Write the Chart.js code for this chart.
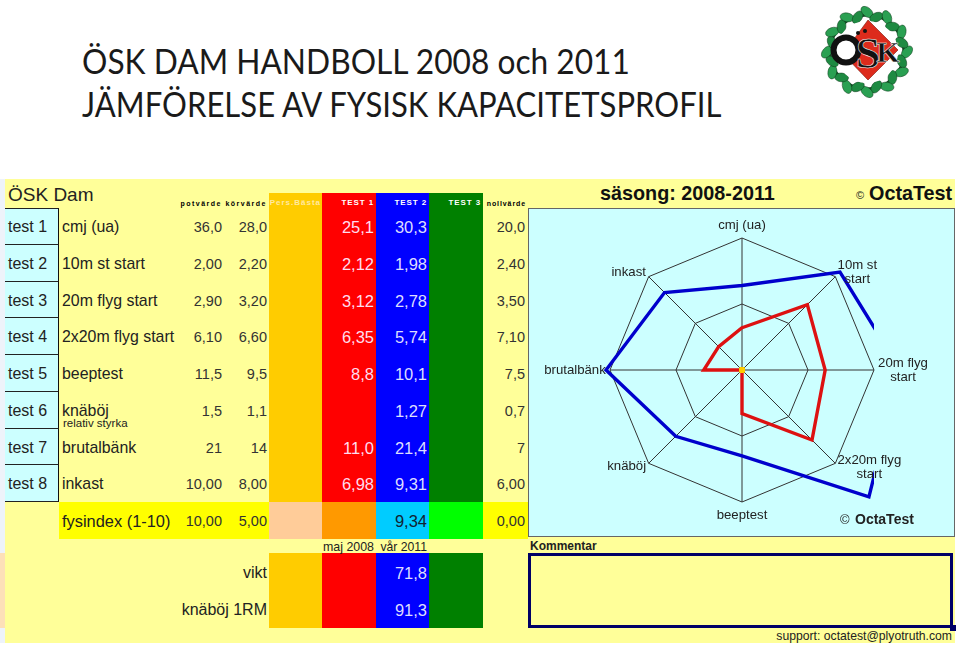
<!DOCTYPE html>
<html><head><meta charset="utf-8">
<script src="https://cdn.jsdelivr.net/npm/chart.js@4"></script>
<style>
html,body{margin:0;padding:0;background:#fff;width:959px;height:654px;overflow:hidden}
#page{position:relative;width:959px;height:654px;overflow:hidden;font-family:"Liberation Sans",Arial,sans-serif;color:#222}
.b{position:absolute}
.t{position:absolute;white-space:nowrap;line-height:1}
#chartBox{position:absolute;left:528px;top:208px;width:427px;height:329px}
canvas{display:block}
</style></head><body><div id="page"></div>
<script>
// ---------- chart data ----------
const titleLines = ["ÖSK DAM HANDBOLL 2008 och 2011", "JÄMFÖRELSE AV FYSISK KAPACITETSPROFIL"];
const testIds = ["test 1","test 2","test 3","test 4","test 5","test 6","test 7","test 8"];
const testNames = ["cmj (ua)","10m st start","20m flyg start","2x20m flyg start","beeptest","knäböj","brutalbänk","inkast"];
const potValues = ["36,0","2,00","2,90","6,10","11,5","1,5","21","10,00"];
const korValues = ["28,0","2,20","3,20","6,60","9,5","1,1","14","8,00"];
const test1Values = ["25,1","2,12","3,12","6,35","8,8","","11,0","6,98"];
const test2Values = ["30,3","1,98","2,78","5,74","10,1","1,27","21,4","9,31"];
const nollValues = ["20,0","2,40","3,50","7,10","7,5","0,7","7","6,00"];
const fysRow = ["fysindex (1-10)","10,00","5,00","9,34","0,00"];
const extraNames = ["vikt","knäböj 1RM"];
const extraValues = ["71,8","91,3"];
const radarLabels = ["cmj (ua)",["10m st","start"],["20m flyg","start"],["2x20m flyg","start"],"beeptest","knäböj","brutalbänk","inkast"];
const scoreTest1 = [3.2,7.0,6.3,7.5,3.3,0,2.9,2.5];
const scoreTest2 = [6.4,10.5,12.0,13.6,6.5,7.1,10.3,8.3];
const scorePers = [0,0,0,0,0,0,0,0];
const scoreTest3 = [0,0,0,0,0,0,0,0];
const radarTicks = [0,5,10];

// ---------- layout helpers ----------
const page = document.getElementById('page');
function box(x,y,w,h,bg,extra){const d=document.createElement('div');d.className='b';
  d.style.cssText=`left:${x}px;top:${y}px;width:${w}px;height:${h}px;background:${bg};${extra||''}`;page.appendChild(d);return d;}
function text(s,x,y,size,opt){opt=opt||{};const d=document.createElement('div');d.className='t';d.textContent=s;
  let st=`top:${y}px;font-size:${size}px;transform:translateY(-50%);color:${opt.color||'#222'};font-weight:${opt.bold?'bold':'normal'};`;
  if(opt.family)st+=`font-family:${opt.family};`;
  if(opt.ls)st+=`letter-spacing:${opt.ls}px;`;
  if(opt.anchor==='r')st+=`right:${959-x}px;`;else if(opt.anchor==='c')st+=`left:${x}px;transform:translate(-50%,-50%);`;else st+=`left:${x}px;`;
  if(opt.sx)st+=`transform-origin:left center;transform:translateY(-50%) scaleX(${opt.sx});`;
  d.style.cssText=st;page.appendChild(d);return d;}

// title
text(titleLines[0],82,60.5,35.5,{family:'Lato',color:'#1a1a1a',sx:0.893});
text(titleLines[1],82,104,35.5,{family:'Lato',color:'#1a1a1a',sx:0.875});

// spreadsheet background and left gutter
box(0,179,5,464,'#eef3fa');
box(0,553,5,75,'#fde0b8');
box(5,179,950,464,'#FFFF99');

// coloured columns
const colX=[269,322,376,429,483];
const mainCols=['#FFCC00','#FF0000','#0000FF','#008000'];
const fysCols=['#FFCC99','#FF9900','#00CCFF','#00FF00'];
mainCols.forEach((c,i)=>{
  box(colX[i],193,colX[i+1]-colX[i],309,c);
  box(colX[i],553,colX[i+1]-colX[i],75,c);
});
box(59,502,469,37,'#FFFF00');
fysCols.forEach((c,i)=>box(colX[i],502,colX[i+1]-colX[i],37,c));

// header
text('ÖSK Dam',8,193.5,19);
text('potvärde',222,202.5,7,{bold:true,ls:1.5,anchor:'r',color:'#000'});
text('körvärde',267,202.5,7,{bold:true,ls:1.5,anchor:'r',color:'#000'});
text('Pers.Bästa',321,202.5,8,{bold:true,ls:1,anchor:'r',color:'#ffe9a0'});
text('TEST 1',374,202.5,8,{bold:true,ls:.9,anchor:'r',color:'#fff'});
text('TEST 2',427,202.5,8,{bold:true,ls:.9,anchor:'r',color:'#fff'});
text('TEST 3',481,202.5,8,{bold:true,ls:.9,anchor:'r',color:'#fff'});
text('nollvärde',526,202.5,7,{bold:true,ls:.9,anchor:'r',color:'#000'});

// rows
const rowTop=208,rowH=36.75;
testIds.forEach((id,i)=>{
  const y0=rowTop+i*rowH,yc=y0+19;
  box(5,y0,54,rowH,'#CCFFFF','box-sizing:border-box;border-right:1.5px solid #111;border-bottom:1.5px solid #222;'+(i==0?'border-top:1.5px solid #222;':''));
  text(id,8,yc,16);
  text(testNames[i],62,yc,15.9);
  text(potValues[i],222,yc,14.5,{anchor:'r',color:'#333'});
  text(korValues[i],267,yc,14.5,{anchor:'r',color:'#333'});
  if(test1Values[i])text(test1Values[i],374,yc,16.5,{anchor:'r',color:'#fde'});
  text(test2Values[i],427,yc,16.5,{anchor:'r',color:'#ddf'});
  text(nollValues[i],525,yc,14.5,{anchor:'r',color:'#333'});
});
text('relativ styrka',63,424,11.5);
// fysindex row
text(fysRow[0],62,521,16.4);
text(fysRow[1],222,521,14.5,{anchor:'r',color:'#333'});
text(fysRow[2],267,521,14.5,{anchor:'r',color:'#333'});
text(fysRow[3],427,521,16.5,{anchor:'r',color:'#123'});
text(fysRow[4],525,521,14.5,{anchor:'r',color:'#333'});
text('maj 2008',374,547,12.4,{anchor:'r'});
text('vår 2011',427,547,12.2,{anchor:'r'});
extraNames.forEach((n,i)=>{
  const yc=572.5+i*37;
  text(n,267,yc,16,{anchor:'r'});
  text(extraValues[i],427,yc,16.5,{anchor:'r',color:'#ddf'});
});

// season heading
text('säsong: 2008-2011',600,193.5,19.8,{bold:true,color:'#111'});
text('©',856,195,11,{color:'#222'});
text('OctaTest',869,193.5,19.8,{bold:true,color:'#111'});

// comment box
text('Kommentar',530,546,12,{bold:true,color:'#222'});
box(528,553,425,75,'#FFFF99','box-sizing:border-box;border:3px solid #000066;');
box(950,625,6,6,'#000066');
text('support: octatest@plyotruth.com',952,635.5,12.2,{anchor:'r',color:'#222'});

// chart panel
box(528,208,427,329,'#CCFFFF','box-sizing:border-box;border:1.5px solid #666;');
const cb=document.createElement('div');cb.id='chartBox';cb.innerHTML='<canvas id="c" width="427" height="329"></canvas>';page.appendChild(cb);
text('©',840,519,13,{color:'#222'});
text('OctaTest',855,519,14,{bold:true,color:'#222'});

// logo
const lns='http://www.w3.org/2000/svg';
const svg=document.createElementNS(lns,'svg');
svg.setAttribute('width','100');svg.setAttribute('height','100');svg.setAttribute('viewBox','-50 -50 100 100');
svg.style.cssText='position:absolute;left:817px;top:2px';
let s='';
const leafCount=24;
s+=`<circle r="37" fill="none" stroke="#154d26" stroke-width="3"/>`;
for(let i=0;i<leafCount;i++){const a=i/leafCount*360;const odd=i%2;const cx=odd?36:40;
  s+=`<ellipse cx="${cx}" cy="0" rx="7" ry="4.4" transform="rotate(${a}) rotate(${odd?50:-50} ${cx} 0)" fill="${odd?'#1e8a42':'#2aa052'}" stroke="#0e3d1c" stroke-width=".5"/>`;}
s+=`<circle r="31" fill="#fff"/>`;
s+=`<path d="M1,-32 L31,-2 L1,28 L-24,2 Z" fill="#dd2b1c" stroke="#7a140a" stroke-width=".6"/>`;
s+=`<circle cx="-21" cy="-2" r="12.5" fill="#fff" stroke="#111" stroke-width="6"/>`;
s+=`<circle cx="-9" cy="-19" r="2" fill="#111"/><circle cx="-2" cy="-21" r="2" fill="#111"/>`;
s+=`<text x="1" y="16" font-family="Liberation Serif" font-weight="bold" font-size="44" text-anchor="middle" fill="#111" stroke="#fff" stroke-width=".5">S</text>`;
s+=`<text x="21" y="10" font-family="Liberation Serif" font-weight="bold" font-size="30" text-anchor="middle" fill="#111" stroke="#fff" stroke-width=".5">K</text>`;
svg.innerHTML=s;page.appendChild(svg);

// ---------- radar ----------
const labelOffsets=[[0,-13],[22,-4],[29,0],[34,4.5],[0,13],[-22,3],[-35,0],[-20,-4]];
const pointLabelPlugin={id:'pointLabelsOut',afterDatasetsDraw(chart){
  const sc=chart.scales.r,ctx=chart.ctx;ctx.save();
  ctx.font='13.2px "Liberation Sans"';ctx.fillStyle='#222';ctx.textAlign='center';ctx.textBaseline='middle';
  radarLabels.forEach((lab,i)=>{
    const p=sc.getPointPosition(i,sc.drawingArea);
    const lines=[].concat(lab);const lh=14;
    lines.forEach((ln,k)=>ctx.fillText(ln,p.x+labelOffsets[i][0],p.y+labelOffsets[i][1]+(k-(lines.length-1)/2)*lh));
  });ctx.restore();
}};
const rightClip=874-955;
const clip={left:false,top:false,bottom:false,right:rightClip};
new Chart(document.getElementById('c'),{
  type:'radar',
  data:{labels:radarLabels.map(l=>[].concat(l).join(' ')),datasets:[
    {label:'Pers.Bästa',data:scorePers,borderColor:'#FFCC00',backgroundColor:'#FFCC00',borderWidth:2,pointRadius:3,pointBorderWidth:0,fill:false,clip},
    {label:'TEST 3',data:scoreTest3,borderColor:'#008000',backgroundColor:'#008000',borderWidth:2,pointRadius:0,fill:false,clip},
    {label:'TEST 1',data:scoreTest1,borderColor:'#DD1111',borderWidth:3.4,pointRadius:0,fill:false,clip},
    {label:'TEST 2',data:scoreTest2,borderColor:'#0000CC',borderWidth:3.4,pointRadius:0,fill:false,clip}
  ]},
  options:{responsive:false,animation:false,devicePixelRatio:1,
    layout:{padding:{top:30,bottom:35,left:2,right:0}},
    plugins:{legend:{display:false},tooltip:{enabled:false},title:{display:false}},
    elements:{line:{tension:0,borderJoinStyle:'miter'}},
    scales:{r:{min:radarTicks[0],max:radarTicks[2],beginAtZero:true,
      ticks:{display:false,stepSize:radarTicks[1]},
      pointLabels:{display:false},
      grid:{color:'#333',lineWidth:1,circular:false},
      angleLines:{display:true,color:'#333',lineWidth:1}}}
  },
  plugins:[pointLabelPlugin]
});
</script></body></html>
